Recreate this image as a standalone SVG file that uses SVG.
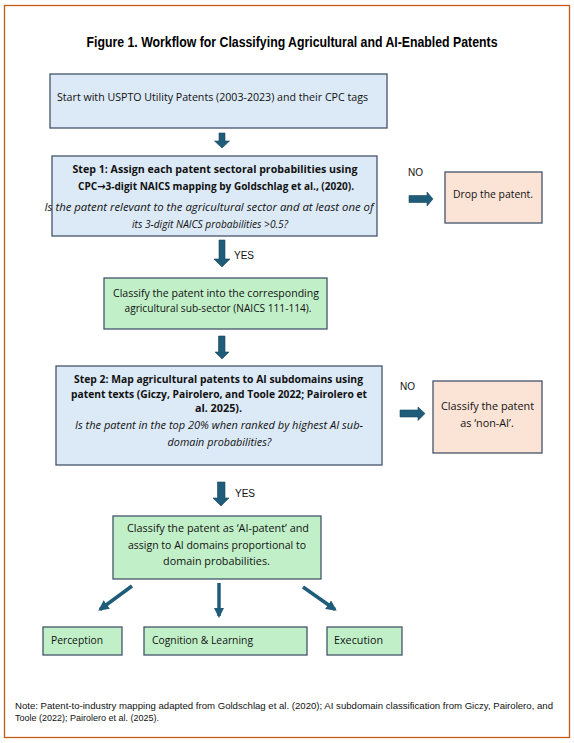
<svg xmlns="http://www.w3.org/2000/svg" width="574" height="743" viewBox="0 0 574 743">
<style>
.frame{fill:#fff;stroke:#C55A11;stroke-width:1.3}
.blue{fill:#DCEAF7;stroke:#44546A;stroke-width:1.3}
.green{fill:#C1F0C8;stroke:#44546A;stroke-width:1.3}
.peach{fill:#FBE3D6;stroke:#44546A;stroke-width:1.3}
.t{font-family:"Open Sans","Noto Sans",sans-serif;font-size:10.8px;fill:#111}
.b{font-weight:bold}
.i{font-style:italic}
.c{text-anchor:middle}
.sym{font-family:"DejaVu Sans",sans-serif;font-weight:bold}
.lbl{font-family:"Liberation Sans",Arial,sans-serif;font-size:10px;fill:#111}
.title{font-family:"Liberation Sans",Arial,sans-serif;font-size:14px;font-weight:bold;fill:#000}
.note{font-family:"Liberation Sans",Arial,sans-serif;font-size:9px;fill:#111}
.ar{fill:#1F5C7A;stroke:#17465E;stroke-width:0.6}
.ln{stroke:#1F5C7A;stroke-width:3.5;fill:none}
</style>
<defs>
<marker id="ah" viewBox="0 0 10 10" refX="8" refY="5" markerWidth="3" markerHeight="3" orient="auto" markerUnits="strokeWidth">
<path d="M0,0 L10,5 L0,10 Z" fill="#1F5C7A"/>
</marker>
</defs>
<rect class="frame" x="4.5" y="5.5" width="565" height="732"/>
<text class="title c" x="292" y="47" textLength="411" lengthAdjust="spacingAndGlyphs">Figure 1. Workflow for Classifying Agricultural and AI-Enabled Patents</text>

<g id="start">
<rect class="blue" x="50" y="74" width="337" height="54"/>
<text class="t" x="57" y="101" textLength="311" lengthAdjust="spacingAndGlyphs">Start with USPTO Utility Patents (2003-2023) and their CPC tags</text>
</g>

<g id="step1">
<rect class="blue" x="52" y="156" width="325" height="80"/>
<text class="t b c" x="215" y="173" textLength="285" lengthAdjust="spacingAndGlyphs">Step 1: Assign each patent sectoral probabilities using</text>
<text class="t b c" x="216" y="190" textLength="276" lengthAdjust="spacingAndGlyphs">CPC<tspan class="sym">→</tspan>3-digit NAICS mapping by Goldschlag et al., (2020).</text>
<text class="t i c" x="209" y="211" textLength="329" lengthAdjust="spacingAndGlyphs">Is the patent relevant to the agricultural sector and at least one of</text>
<text class="t i c" x="210" y="228" textLength="156" lengthAdjust="spacingAndGlyphs">its 3-digit NAICS probabilities &gt;0.5?</text>
</g>

<g id="drop">
<rect class="peach" x="445" y="172" width="97" height="51"/>
<text class="t c" x="493" y="198" textLength="80" lengthAdjust="spacingAndGlyphs">Drop the patent.</text>
</g>

<g id="classify-sector">
<rect class="green" x="104" y="278" width="223" height="51"/>
<text class="t c" x="216" y="297" textLength="206" lengthAdjust="spacingAndGlyphs">Classify the patent into the corresponding</text>
<text class="t c" x="218" y="312" textLength="187" lengthAdjust="spacingAndGlyphs">agricultural sub-sector (NAICS 111-114).</text>
</g>

<g id="step2">
<rect class="blue" x="56" y="366" width="326" height="99"/>
<text class="t b c" x="218.5" y="383" textLength="289" lengthAdjust="spacingAndGlyphs">Step 2: Map agricultural patents to AI subdomains using</text>
<text class="t b c" x="219" y="398" textLength="296" lengthAdjust="spacingAndGlyphs">patent texts (Giczy, Pairolero, and Toole 2022; Pairolero et</text>
<text class="t b c" x="218.5" y="412">al. 2025).</text>
<text class="t i c" x="219" y="429" textLength="288" lengthAdjust="spacingAndGlyphs">Is the patent in the top 20% when ranked by highest AI sub-</text>
<text class="t i c" x="219.5" y="446">domain probabilities?</text>
</g>

<g id="non-ai">
<rect class="peach" x="433" y="381" width="109" height="72"/>
<text class="t c" x="487.5" y="410" textLength="93" lengthAdjust="spacingAndGlyphs">Classify the patent</text>
<text class="t c" x="487" y="427">as ‘non-AI’.</text>
</g>

<g id="ai-patent">
<rect class="green" x="113" y="516" width="208" height="63"/>
<text class="t c" x="218" y="532" textLength="182" lengthAdjust="spacingAndGlyphs">Classify the patent as ‘AI-patent’ and</text>
<text class="t c" x="217" y="549" textLength="178" lengthAdjust="spacingAndGlyphs">assign to AI domains proportional to</text>
<text class="t c" x="216.5" y="565">domain probabilities.</text>
</g>

<g id="perception">
<rect class="green" x="43" y="627" width="79" height="28"/>
<text class="t" x="51" y="644" textLength="52" lengthAdjust="spacingAndGlyphs">Perception</text>
</g>
<g id="cognition">
<rect class="green" x="144" y="627" width="163" height="28"/>
<text class="t" x="152" y="644" textLength="101" lengthAdjust="spacingAndGlyphs">Cognition &amp; Learning</text>
</g>
<g id="execution">
<rect class="green" x="327" y="627" width="75" height="28"/>
<text class="t" x="334" y="644" textLength="49" lengthAdjust="spacingAndGlyphs">Execution</text>
</g>

<g id="connectors">
<path class="ar" d="M219,133 H225 V141 H229.5 L222,148 L214.5,141 H219 Z"/>
<path class="ar" d="M219,240 H225 V259 H230 L222,267 L214,259 H219 Z"/>
<path class="ar" d="M218.5,336 H225 V352 H229 L222,359 L215,352 H218.5 Z"/>
<path class="ar" d="M217.5,482 H225 V498 H229 L221,506 L213,498 H217.5 Z"/>
<path class="ar" d="M409,195.5 H427 V192 L433,199 L427,206 V202.5 H409 Z"/>
<path class="ar" d="M400,410 H418 V407 L425,413.5 L418,420.5 V417 H400 Z"/>
<line class="ln" x1="132" y1="586" x2="100" y2="609.5" marker-end="url(#ah)"/>
<line class="ln" x1="219" y1="583" x2="219" y2="616" marker-end="url(#ah)"/>
<line class="ln" x1="303" y1="587" x2="335" y2="609.5" marker-end="url(#ah)"/>
<text class="lbl" x="234" y="259">YES</text>
<text class="lbl" x="235" y="497">YES</text>
<text class="lbl" x="408" y="176">NO</text>
<text class="lbl" x="400" y="390">NO</text>
</g>

<text class="note" x="15" y="709" textLength="538" lengthAdjust="spacingAndGlyphs">Note: Patent-to-industry mapping adapted from Goldschlag et al. (2020); AI subdomain classification from Giczy, Pairolero, and</text>
<text class="note" x="15" y="721">Toole (2022); Pairolero et al. (2025).</text>
</svg>
